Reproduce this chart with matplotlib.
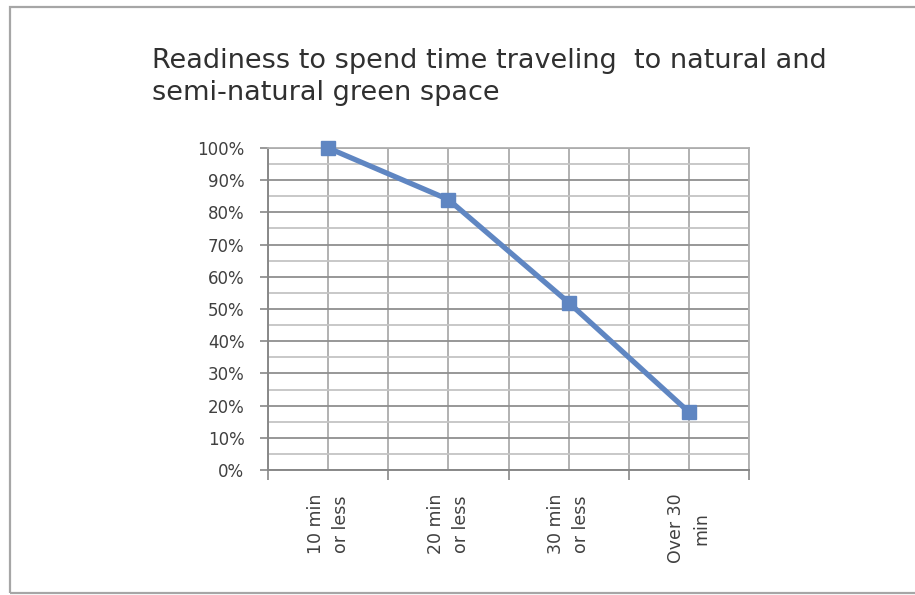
import matplotlib
matplotlib.use("Agg")
import matplotlib.pyplot as plt
from matplotlib.patches import Rectangle
from matplotlib.ticker import FixedLocator, PercentFormatter

categories = ["10 min\nor less", "20 min\nor less", "30 min\nor less", "Over 30\nmin"]
values = [100, 84, 52, 18]
title = "Readiness to spend time traveling  to natural and\nsemi-natural green space"

plt.rcParams['font.family'] = ['DejaVu Sans']
text_color = '#404040'

fig = plt.figure(figsize=(9.15, 5.95), dpi=100)
fig.patch.set_facecolor('white')

# outer border
fig.add_artist(Rectangle((10/915, 2/595), 1.2, 586/595, transform=fig.transFigure,
                         fill=False, edgecolor='#a6a6a6', linewidth=1.6))

ax = fig.add_axes([268/915, 125/595, 481/915, 322/595])
x = list(range(len(categories)))
ax.plot(x, values, color='#5F86C2', linewidth=3.8, marker='s', markersize=10.5,
        markerfacecolor='#5F86C2', markeredgecolor='#5F86C2', zorder=5, clip_on=False)

ax.set_xlim(-0.5, len(categories) - 0.5)
ax.set_ylim(0, 100)

# y axis
ax.yaxis.set_major_locator(FixedLocator(range(0, 101, 10)))
ax.yaxis.set_minor_locator(FixedLocator(range(5, 100, 10)))
ax.yaxis.set_major_formatter(PercentFormatter(decimals=0))
ax.tick_params(axis='y', which='major', length=6, width=1.2, color='#888888', pad=11,
               labelsize=12, labelcolor=text_color)
ax.tick_params(axis='y', which='minor', length=0)
ax.grid(axis='y', which='major', color='#8f8f8f', linewidth=1.3)
ax.grid(axis='y', which='minor', color='#c4c4c4', linewidth=1.3)

# x axis: labels at centres, tick marks at boundaries
ax.set_xticks(x)
ax.set_xticklabels(categories, rotation=90, ha='center', va='top', linespacing=1.5)
ax.set_xticks([i - 0.5 for i in range(len(categories) + 1)], minor=True)
ax.tick_params(axis='x', which='major', length=0, pad=17, labelsize=12.5, labelcolor=text_color)
ax.tick_params(axis='x', which='minor', length=7, width=1.2, color='#888888')
ax.grid(axis='x', which='both', color='#ababab', linewidth=1.3)

ax.set_axisbelow(True)
for s in ['top', 'right']:
    ax.spines[s].set_color('#b0b0b0')
    ax.spines[s].set_linewidth(1.3)
for s in ['left', 'bottom']:
    ax.spines[s].set_color('#888888')
    ax.spines[s].set_linewidth(1.4)

fig.text(152/915, 1 - 48/595, title, ha='left', va='top', fontsize=19.5,
         color='#303030', linespacing=1.32)

fig.savefig('out.png', dpi=100)
